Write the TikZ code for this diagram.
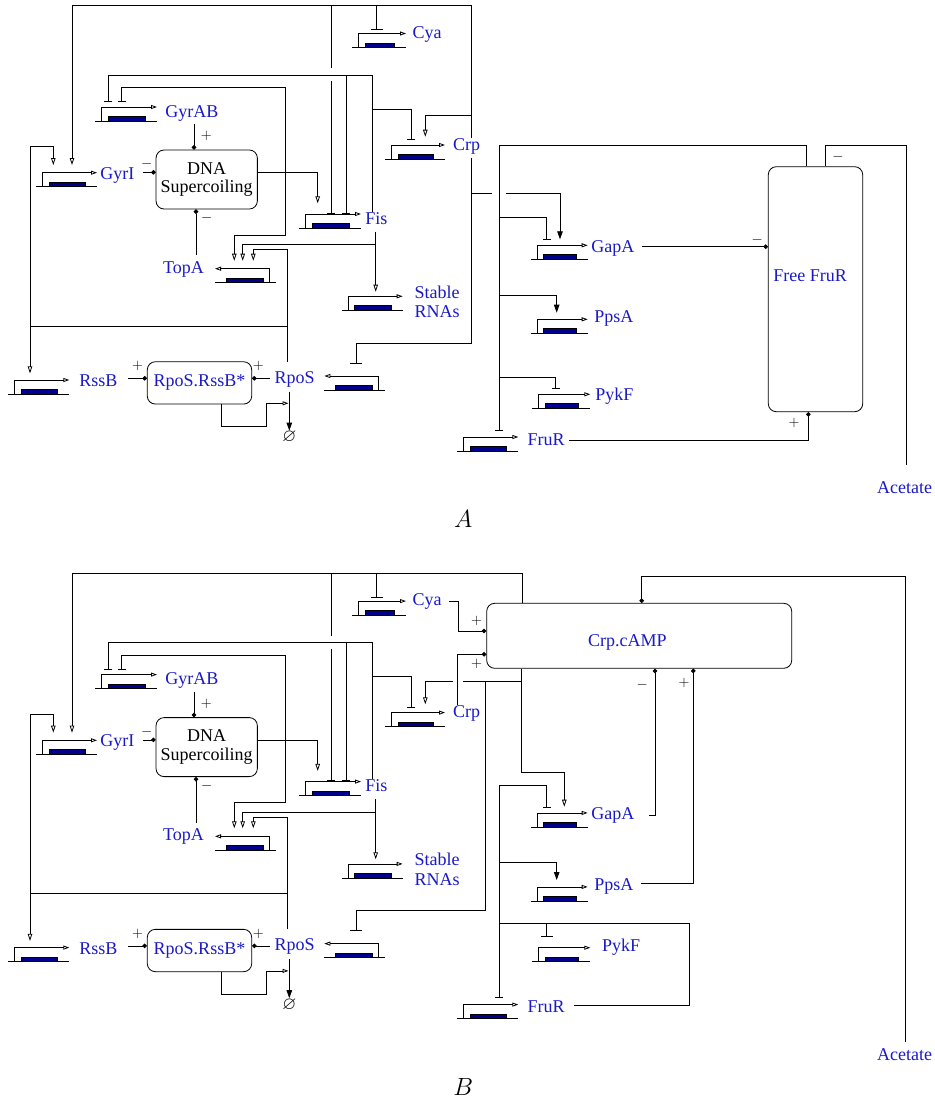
\documentclass[tikz,border=0pt]{standalone}
\usepackage{fontspec}
\usepackage{amssymb}
\setmainfont{Liberation Serif}
\usetikzlibrary{arrows.meta}

\definecolor{genblue}{RGB}{25,25,200}
\definecolor{barblue}{RGB}{0,0,140}

\tikzset{
  lbl/.style={font=\fontsize{18}{18.5}\selectfont, text=genblue, inner sep=0pt, anchor=base west},
  box/.style={draw, rounded corners=8pt, inner sep=0pt, font=\fontsize{18}{18.5}\selectfont},
  sgn/.style={font=\fontsize{15}{15}\selectfont, inner sep=0pt, text=black},
  prom/.style={-{Triangle[open,length=6pt,width=4pt]}},
  act/.style={-{Triangle[open,length=7pt,width=4.5pt]}},
  actf/.style={-{Triangle[length=8pt,width=5.5pt]}},
  rep/.style={-{Bar[width=8pt]}},
  repw/.style={-{Bar[width=12pt]}},
  inf/.style={-{Circle[length=4.5pt]}},
}

% gene pointing right / left, #1 name, (#2,#3) left end of the base line, #4 length
\def\gener#1#2#3#4{
  \coordinate (#1) at (#2,#3);
  \draw (#1) -- ++(#4,0);
  \filldraw[fill=barblue,draw=black] ([xshift=13pt]#1) rectangle ++(#4-24.5,-4.5);
  \draw[prom] ([xshift=6.5pt]#1) -- ++(0,-14) -- ++(#4-6.5,0);
}
\def\genel#1#2#3{
  \coordinate (#1) at (#2,#3);
  \draw (#1) -- ++(61,0);
  \filldraw[fill=barblue,draw=black] ([xshift=11.5pt]#1) rectangle ++(36.5,-4.5);
  \draw[prom] ([xshift=54.5pt]#1) -- ++(0,-14) -- ++(-54.5,0);
}

% the part that both panels share
\def\leftpart{
  \gener{cyag}{352}{47.5}{54}
  \gener{gyrabg}{95}{121}{62}
  \gener{gyrig}{36}{186.7}{61}
  \gener{crpg}{385}{159}{60}
  \gener{fisg}{299}{228}{62}
  \genel{topag}{215}{282.7}
  \gener{rnag}{341.7}{310.3}{61}
  \gener{rssbg}{8.3}{394}{61}
  \genel{rposg}{324.3}{390}

  \node[lbl] (cya) at (412.3,38.3) {Cya};
  \node[lbl] (gyrab) at (165,117.3) {GyrAB};
  \node[lbl] (gyri) at (100,179) {GyrI};
  \node[lbl] (crp) at (452.7,150) {Crp};
  \node[lbl] (fis) at (365,224) {Fis};
  \node[lbl] (topa) at (162.7,273.3) {TopA};
  \node[lbl,anchor=north west,align=left,font=\fontsize{18}{19.5}\selectfont] (rna) at (414.3,285.4) {Stable\\RNAs};
  \node[lbl] (rssb) at (79,386.7) {RssB};
  \node[lbl] (rpos) at (274.3,383.3) {RpoS};
  \node[box, minimum width=101.3pt, minimum height=59pt, align=center] (dna) at (206.7,179.5) {DNA\\Supercoiling};
  \node[box, minimum width=104.4pt, minimum height=42.3pt, text=genblue] (cplx) at (199.5,382.9) {RpoS.RssB*};
  \node[inner sep=0pt, font=\fontsize{18}{18}\selectfont] (deg) at (289.3,437) {$\varnothing$};

  % top line
  \draw[act] (471.7,5.7) -- (72,5.7) -- (72,165);
  \draw[repw] (376.7,5.7) -- (376.7,30);
  \draw (331,5.7) -- (331,68.3);
  \draw[rep] (331,81) -- (331,213.3);

  % Fis
  \draw[rep] (372.7,0 |- fis.north) -- (372.7,75) -- (108.3,75) -- (108.3,101.7);
  \draw[rep] (346,75) -- (346,213.3);
  \draw[rep] (372.7,109) -- (411,109) -- (411,140);
  \draw[act] (375.7,231.7) -- (375.7,291.7);
  \draw[act] (375.7,244.3) -- (242.7,244.3) -- (242.7,260.7);

  % supercoiling
  \draw[inf] (194,124) -- (194,0 |- dna.north);
  \node[sgn] at (206.3,136) {$+$};
  \draw[inf] (142.7,172.3) -- (dna.west |- 0,172.3);
  \node[sgn] at (146.7,164) {$-$};
  \draw[inf] (196,255) -- (196,0 |- dna.south);
  \node[sgn] at (206.7,218.3) {$-$};
  \draw[act] (dna.east |- 0,172.3) -- (317.7,172.3) -- (317.7,203.3);
  \draw[rep] (285,172.3) -- (285,87.3) -- (121.7,87.3) -- (121.7,101.7);
  \draw[act] (285,172.3) -- (285,235) -- (234.3,235) -- (234.3,260.7);

  % RpoS
  \draw[act] (287.7,361.7) -- (287.7,249.3) -- (253.3,249.3) -- (253.3,260.7);
  \draw (287.7,326) -- (30,326);
  \draw[act] (30,326) -- (30,373.3);
  \draw[act] (30,326) -- (30,146.7) -- (53.3,146.7) -- (53.3,165);
  \draw[inf] (128.3,378.3) -- (cplx.west |- 0,378.3);
  \node[sgn] at (137.7,366) {$+$};
  \draw[inf] (270,378.3) -- (cplx.east |- 0,378.3);
  \node[sgn] at (258.3,366) {$+$};
  \draw[actf] (289.3,391.7) -- (deg.north);
  \draw[prom] (221.7,0 |- cplx.south) -- (221.7,426.7) -- (266.7,426.7) -- (266.7,403.3) -- (288.5,403.3);
}

\begin{document}
\begin{tikzpicture}[x=1pt,y=-1pt,line width=0.8pt]
\useasboundingbox (0,0) rectangle (935,1104);

% panel A
\begin{scope}[name prefix=A-]
  \leftpart
\end{scope}
\gener{A-gapag}{530.7}{259.3}{57}
\gener{A-ppsag}{530.7}{333.3}{57}
\gener{A-pykfg}{532.3}{408.3}{58}
\gener{A-frurg}{457.3}{451}{61}
\node[lbl] (A-gapa) at (591,252) {GapA};
\node[lbl] (A-ppsa) at (594,322.7) {PpsA};
\node[lbl] (A-pykf) at (595,400.7) {PykF};
\node[lbl] (A-frur) at (527.3,445) {FruR};
\node[lbl] (A-acet) at (876.7,493.3) {Acetate};
\node[box, minimum width=94.4pt, minimum height=245pt] (freefrur) at (815.5,289.2) {};
\node[lbl] (freefrurtxt) at (773,281) {Free FruR};

\draw (471.7,0 |- A-crp.north) -- (471.7,5.7);
\draw[act] (471.7,115) -- (425.3,115) -- (425.3,136.7);
\draw[repw] (471.7,158) -- (471.7,343.3) -- (356,343.3) -- (356,363.3);
\draw (471.7,193.3) -- (491.7,193.3);
\draw[actf] (505.7,193.3) -- (560,193.3) -- (560,239.3);

\draw[rep] (806,0 |- freefrur.north) -- (806,145.7) -- (499.3,145.7) -- (499.3,430.7);
\draw[rep] (499.3,217.7) -- (546.7,217.7) -- (546.7,239.3);
\draw[actf] (499.3,295.7) -- (556.7,295.7) -- (556.7,312.7);
\draw[rep] (499.3,377.7) -- (555.7,377.7) -- (555.7,388.3);
\draw[inf] (642.3,246.7) -- (freefrur.west |- 0,246.7);
\node[sgn] at (757.3,240) {$-$};
\draw[inf] (569.3,440) -- (808.3,440) -- (808.3,0 |- freefrur.south);
\node[sgn] at (794,422.7) {$+$};
\draw (906.7,465) -- (906.7,145.7) -- (825.7,145.7) -- (825.7,0 |- freefrur.north);
\node[sgn] at (838,157.3) {$-$};
\node[font=\fontsize{23}{23}\selectfont, inner sep=0pt] (labA) at (463.3,519) {$A$};

% panel B
\begin{scope}[shift={(0,567.6)}, name prefix=B-]
  \leftpart
\end{scope}
\gener{B-gapag}{530.7}{826.9}{57}
\gener{B-ppsag}{530.7}{900.9}{57}
\gener{B-pykfg}{532.3}{961.7}{58}
\gener{B-frurg}{457.3}{1018.6}{61}
\node[lbl] (B-gapa) at (591,819.6) {GapA};
\node[lbl] (B-ppsa) at (594,890.3) {PpsA};
\node[lbl] (B-pykf) at (601.7,951.7) {PykF};
\node[lbl] (B-frur) at (527.3,1012.6) {FruR};
\node[lbl] (B-acet) at (876.7,1060) {Acetate};
\node[box, minimum width=305pt, minimum height=65pt] (crpcamp) at (639.2,635.8) {};
\node[lbl] (crpcamptxt) at (587.7,646) {Crp.cAMP};

\draw (471.7,573.3) -- (522.7,573.3) -- (522.7,0 |- crpcamp.north);
\draw[inf] (449,601) -- (458.3,601) -- (458.3,631) -- (crpcamp.west |- 0,631);
\node[sgn] at (476.7,621) {$+$};
\draw[inf] (457.7,0 |- B-crp.north) -- (457.7,654.3) -- (crpcamp.west |- 0,654.3);
\node[sgn] at (476.7,664) {$+$};
\draw (521,0 |- crpcamp.south) -- (521,681.7) -- (463.3,681.7);
\draw[act] (453.3,681.7) -- (425.3,681.7) -- (425.3,704.3);
\draw[repw] (485,681.7) -- (485,910) -- (356,910) -- (356,930.9);
\draw[act] (521,681.7) -- (521,772.3) -- (564.3,772.3) -- (564.3,806.7);

\draw (574.3,1005) -- (689.3,1005) -- (689.3,923.3) -- (499.3,923.3);
\draw[rep] (499.3,785) -- (499.3,997.7);
\draw[rep] (499.3,785) -- (546.7,785) -- (546.7,807.3);
\draw[actf] (499.3,862.7) -- (556.7,862.7) -- (556.7,880);
\draw[repw] (546.7,923.3) -- (546.7,936.7);
\draw[inf] (649.3,815) -- (655,815) -- (655,0 |- crpcamp.south);
\node[sgn] at (642.3,685) {$-$};
\draw[inf] (641,883.3) -- (693.3,883.3) -- (693.3,0 |- crpcamp.south);
\node[sgn] at (684,683.3) {$+$};
\draw[inf] (905.7,1041.7) -- (905.7,576) -- (641.7,576) -- (641.7,0 |- crpcamp.north);
\node[font=\fontsize{23}{23}\selectfont, inner sep=0pt] (labB) at (463.3,1086.6) {$B$};
\end{tikzpicture}
\end{document}
